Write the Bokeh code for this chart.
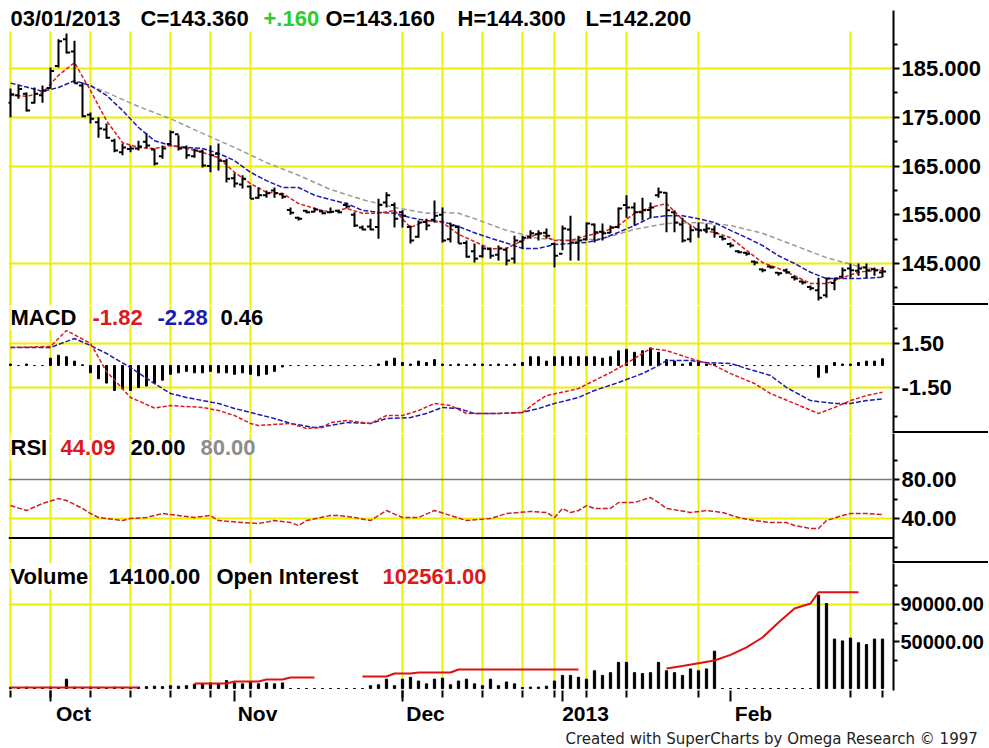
import numpy as np
from bokeh.plotting import figure
from bokeh.layouts import column
from bokeh.models import (Range1d, FixedTicker, NumeralTickFormatter, LinearAxis,
                          Label, BoxAnnotation, Span, Spacer, Title)
from bokeh.embed import file_html
from bokeh.resources import INLINE

nan = float("nan")

# ---------------- data (trading-day index 0 = 24 Sep 2012 ... 109 = 01 Mar 2013) ----------------
bar_idx = list(range(110))
opens = [178.0, 179.5, 179.8, 178.0, 179.5, 181.0, 185.5, 191.0, 188.5, 181.5,
         175.5, 174.0, 172.5, 170.2, 167.8, 168.5, 168.6, 170.0, 168.4, 167.0,
         169.5, 171.5, 168.8, 167.0, 168.0, 165.0, 167.5, 166.0, 162.5, 161.2,
         160.8, 158.5, 159.0, 160.0, 159.2, 156.0, 154.4, 155.8, 155.6, 155.7,
         155.5, 155.8, 157.0, 155.0, 152.4, 152.6, 152.5, 157.5, 157.0, 155.5,
         152.5, 150.5, 153.5, 154.0, 155.0, 150.0, 152.5, 149.2, 147.5, 146.5,
         148.0, 146.8, 147.8, 146.0, 149.5, 150.5, 151.0, 151.3, 149.0, 147.0,
         152.0, 149.3, 150.0, 153.0, 151.5, 151.3, 152.5, 157.0, 156.5, 155.5,
         156.0, 159.0, 159.5, 155.5, 153.0, 150.0, 152.0, 151.9, 152.0, 150.5,
         149.0, 147.5, 147.2, 145.4, 143.8, 144.4, 143.1, 143.6, 142.2, 141.3,
         140.2, 139.5, 138.5, 141.0, 142.3, 144.0, 143.5, 144.2, 143.8, 143.16]
highs = [180.9, 181.5, 180.1, 181.1, 181.5, 185.2, 191.0, 192.2, 190.7, 182.1,
         176.0, 175.0, 173.7, 170.6, 169.6, 169.2, 170.2, 171.7, 168.6, 169.2,
         172.3, 171.3, 169.2, 168.6, 168.4, 169.2, 169.6, 166.5, 163.5, 163.1,
         161.0, 160.6, 160.0, 160.6, 159.4, 156.5, 154.6, 156.0, 156.5, 155.9,
         156.5, 156.0, 157.5, 155.5, 152.8, 154.2, 158.3, 159.6, 157.5, 155.9,
         152.8, 153.8, 154.2, 157.9, 156.5, 153.4, 152.8, 149.7, 149.1, 148.7,
         148.3, 148.7, 148.3, 150.7, 150.7, 151.8, 151.8, 152.2, 149.3, 152.8,
         154.8, 150.7, 153.4, 153.2, 153.2, 152.8, 156.5, 159.0, 157.5, 158.5,
         157.5, 160.6, 159.6, 155.9, 154.4, 152.8, 153.4, 153.2, 152.8, 150.7,
         149.3, 147.7, 147.3, 145.6, 144.0, 144.6, 143.2, 144.0, 142.5, 141.5,
         140.5, 142.1, 142.1, 142.1, 144.2, 145.0, 145.0, 145.0, 144.2, 144.3]
lows = [175.0, 178.8, 176.2, 177.8, 178.0, 180.9, 185.2, 188.1, 181.9, 175.0,
        173.7, 170.8, 170.6, 167.8, 167.2, 167.8, 168.2, 168.6, 165.1, 166.5,
        169.2, 168.2, 166.5, 166.7, 164.7, 163.7, 164.1, 161.6, 160.6, 160.4,
        158.3, 158.3, 158.5, 158.5, 158.3, 155.0, 153.8, 155.3, 155.5, 155.1,
        155.3, 155.3, 156.3, 152.5, 151.8, 151.8, 150.1, 156.5, 152.4, 152.4,
        149.1, 150.3, 151.8, 153.4, 149.3, 149.3, 149.1, 146.2, 145.2, 146.2,
        146.0, 145.6, 144.6, 145.0, 148.1, 150.1, 149.7, 150.1, 144.2, 147.7,
        145.6, 145.6, 149.7, 149.3, 149.7, 151.2, 152.2, 154.4, 152.8, 153.8,
        154.4, 158.5, 151.4, 151.4, 149.3, 149.3, 150.3, 151.2, 150.3, 149.7,
        148.3, 147.1, 146.6, 144.6, 143.2, 144.0, 142.5, 142.9, 141.5, 140.7,
        139.5, 137.4, 138.0, 139.5, 142.1, 142.1, 142.5, 142.1, 142.5, 142.2]
closes = [179.7, 180.8, 176.4, 179.8, 180.5, 184.5, 190.6, 188.3, 182.0, 175.2,
          174.7, 172.7, 170.8, 168.2, 168.8, 168.6, 169.0, 169.2, 165.5, 168.6,
          171.9, 168.6, 167.2, 168.2, 165.1, 167.2, 166.1, 162.4, 161.4, 162.4,
          158.3, 159.0, 159.4, 159.4, 158.7, 155.4, 154.2, 155.5, 156.1, 155.3,
          155.6, 155.5, 156.7, 152.8, 152.0, 152.0, 157.0, 159.0, 154.2, 154.8,
          149.7, 153.4, 152.8, 154.8, 149.7, 152.8, 149.1, 146.4, 146.0, 148.1,
          146.6, 148.1, 145.6, 149.7, 150.3, 151.2, 151.2, 150.7, 146.6, 152.2,
          149.3, 149.7, 153.2, 151.4, 151.2, 152.4, 156.3, 156.5, 155.5, 155.9,
          156.5, 159.6, 155.9, 153.4, 149.7, 151.8, 151.8, 152.2, 151.2, 150.1,
          148.7, 147.3, 147.0, 145.2, 143.6, 144.2, 143.0, 143.2, 141.9, 141.1,
          139.9, 138.0, 141.9, 141.9, 143.6, 143.6, 144.0, 143.6, 143.6, 143.36]

ma_idx = [0, 2, 4, 6, 8, 10, 12, 14, 16, 18,
          20, 22, 24, 26, 28, 30, 32, 34, 36, 38,
          40, 42, 44, 46, 48, 50, 52, 54, 56, 58,
          60, 62, 64, 66, 68, 70, 72, 74, 76, 78,
          80, 82, 84, 86, 88, 90, 92, 94, 96, 98,
          100, 102, 104, 106, 108, 109]
red_ma = [179.5, 179.3, 180.0, 183.6, 186.2, 180.5, 174.3, 169.8, 168.8, 168.6,
          169.2, 168.6, 167.8, 166.7, 163.7, 161.4, 159.6, 159.4, 157.3, 156.3,
          155.5, 156.3, 155.3, 155.3, 155.9, 152.4, 153.8, 153.4, 151.0, 149.5,
          148.0, 148.1, 149.7, 151.2, 149.7, 149.7, 150.7, 151.4, 152.8, 155.3,
          156.5, 157.3, 154.0, 151.8, 151.4, 150.3, 147.7, 145.2, 144.0, 142.5,
          140.9, 140.9, 142.1, 143.2, 143.6, 143.5]
blue_ma = [182.0, 181.2, 180.3, 181.1, 182.5, 181.5, 179.5, 176.4, 172.9, 170.2,
           169.2, 168.8, 168.6, 167.6, 166.1, 163.7, 162.0, 160.6, 160.6, 159.0,
           158.1, 157.3, 155.9, 155.5, 155.3, 154.4, 153.8, 153.6, 152.6, 151.3,
           150.2, 149.2, 148.1, 148.1, 148.9, 149.1, 149.3, 150.1, 151.4, 152.8,
           154.4, 154.8, 154.8, 154.2, 153.4, 151.8, 150.3, 148.7, 146.6, 145.0,
           143.2, 141.9, 141.9, 141.9, 142.1, 142.2]
gray_idx = [9, 12, 16, 20, 24, 28, 32, 36, 40, 44, 48, 52, 54, 56,
            58, 62, 66, 70, 74, 78, 82, 86, 90, 94, 98, 102, 106, 109]
gray_ma = [182.1, 180.1, 177.2, 174.7, 171.7, 168.8, 165.7, 163.1, 160.2, 158.1, 156.5, 155.3, 155.5, 155.3,
           154.2, 151.8, 150.1, 149.7, 150.1, 152.0, 153.2, 153.4, 152.8, 151.2, 148.7, 146.2, 144.4, 143.6]

macd_idx = [0, 5, 7, 10, 12, 15, 18, 20, 24, 26,
            28, 30, 31, 35, 37, 39, 40, 42, 45, 47,
            49, 51, 53, 55, 57, 61, 64, 66, 67, 70,
            71, 73, 75, 77, 80, 82, 85, 88, 90, 93,
            95, 98, 101, 103, 105, 107, 109]
macd = [1.23, 1.3, 2.39, 1.5, -0.4, -2.18, -2.9, -2.73, -2.86, -3.07,
        -3.41, -3.95, -4.09, -3.95, -4.29, -4.23, -3.89, -3.75, -3.95, -3.41,
        -3.41, -3.07, -2.59, -2.73, -3.27, -3.27, -3.2, -2.39, -2.05, -1.7,
        -1.57, -1.02, -0.48, 0.14, 1.16, 1.02, 0.48, 0.0, -0.55, -1.23,
        -1.91, -2.59, -3.27, -2.86, -2.39, -2.05, -1.82]
sig_idx = [0, 5, 8, 10, 12, 15, 18, 20, 22, 24,
           26, 28, 30, 33, 35, 38, 40, 42, 45, 47,
           50, 52, 54, 56, 58, 61, 64, 66, 68, 71,
           73, 76, 79, 81, 82, 85, 87, 90, 92, 95,
           97, 100, 103, 105, 107, 109]
signal = [1.23, 1.23, 1.84, 1.36, 0.82, -0.14, -1.23, -1.91, -2.18, -2.39,
          -2.59, -2.93, -3.2, -3.61, -3.95, -4.23, -4.09, -3.89, -3.95, -3.61,
          -3.55, -3.27, -2.86, -2.93, -3.27, -3.27, -3.2, -2.93, -2.59, -2.18,
          -1.7, -1.16, -0.55, 0.0, 0.34, 0.34, 0.2, 0.14, -0.2, -0.68,
          -1.5, -2.39, -2.59, -2.59, -2.39, -2.28]
macd_hist = [0.1, 0.0, 0.1, 0.0, 0.0, 0.5, 0.7, 0.6, 0.3, 0.05,
             -0.5, -0.9, -1.2, -1.7, -1.6, -1.7, -1.5, -1.4, -1.2, -1.0,
             -0.6, -0.5, -0.4, -0.5, -0.5, -0.4, -0.5, -0.5, -0.6, -0.5,
             -0.6, -0.7, -0.6, -0.4, -0.1, 0.0, 0.0, 0.0, 0.0, 0.0,
             0.0, 0.0, 0.0, 0.0, 0.0, 0.0, 0.1, 0.3, 0.5, 0.2,
             0.1, 0.3, 0.2, 0.4, 0.1, 0.05, 0.1, 0.05, 0.1, 0.1,
             0.05, 0.1, 0.05, 0.1, 0.2, 0.6, 0.6, 0.3, 0.6, 0.6,
             0.6, 0.6, 0.6, 0.6, 0.5, 0.6, 1.0, 1.1, 0.9, 1.0,
             1.2, 0.9, 0.4, 0.3, 0.1, 0.2, 0.3, 0.1, 0.1, 0.0,
             0.0, 0.0, 0.0, 0.0, 0.0, 0.0, 0.0, 0.0, 0.0, 0.0,
             0.0, -0.8, -0.5, 0.2, 0.1, 0.1, 0.2, 0.3, 0.3, 0.46]

rsi_idx = [0, 2, 4, 6, 7, 9, 10, 11, 14, 15,
           17, 19, 21, 23, 25, 26, 29, 31, 33, 35,
           36, 37, 40, 41, 43, 45, 46, 47, 49, 51,
           53, 55, 57, 60, 62, 65, 67, 68, 69, 70,
           71, 72, 73, 75, 76, 78, 80, 81, 82, 85,
           87, 89, 91, 93, 95, 97, 98, 100, 101, 102,
           104, 105, 107, 109]
rsi = [53.3, 48.2, 55.4, 60.5, 58.5, 50.3, 45.1, 41.0, 37.9, 40.0,
       41.0, 45.1, 43.1, 41.0, 43.1, 37.9, 35.9, 34.9, 37.9, 35.9,
       32.8, 37.9, 43.1, 43.1, 41.0, 37.9, 43.1, 48.2, 41.0, 41.0,
       48.2, 43.1, 37.9, 40.0, 45.1, 47.2, 46.2, 41.0, 50.3, 46.2,
       48.2, 53.3, 50.3, 50.3, 56.4, 56.4, 61.5, 56.4, 50.3, 46.2,
       48.2, 46.2, 41.0, 37.9, 35.9, 35.9, 32.8, 29.7, 29.7, 37.9,
       43.1, 45.1, 45.1, 44.09]

volume = [1200, 1000, 1500, 1000, 1200, 1500, 1000, 10000, 1500, 1200,
          1500, 1200, 1000, 1500, 1200, 1000, 1500, 2000, 2500, 2000,
          3000, 2500, 3000, 4500, 5000, 6000, 5000, 8500, 6000, 5000,
          7000, 5000, 6000, 5000, 6000,
          0, 0, 0, 0, 0, 0, 0, 0, 0, 0,
          3000, 4000, 10000, 3000, 10000,
          12000, 8000, 5000, 10000, 11000, 4000, 8000, 10000, 5000, 3000,
          10000, 3000, 7000, 5000, 1000, 1500, 1500, 2500, 8000,
          14000, 14000, 12000, 10000, 19000, 14000, 17000, 28000, 28000, 17000, 16000,
          17000, 28000, 19000, 17000, 14000, 21000, 19000, 21000, 40000,
          0, 0, 0, 0, 0, 0, 0, 0, 0, 0, 0, 0,
          100000, 91000, 53000, 51000, 54000, 49000, 47000, 53000, 53000]

oi_idx = [0, 16, 17, 23, 27, 28, 31, 32, 34, 35,
          38, 39, 43, 44, 47, 48, 50, 51, 55, 56,
          71, 72, 81, 82, 84, 86, 88, 90, 92, 94,
          96, 98, 100, 101, 106]
open_interest = [1000, 1000, nan, 5300, 5300, 7500, 7500, 9600, 9600, 11800,
                 11800, nan, nan, 12800, 12800, 16000, 16000, 17100, 17100, 20300,
                 20300, nan, nan, 21400, 24000, 27000, 30000, 36000, 44000, 54600,
                 70700, 85700, 91000, 103000, 103000]

week_grid = [0, 5, 10, 15, 20, 25, 30, 49, 54, 59, 64, 68, 72, 77, 86, 105]
week_ticks = week_grid + [109]
month_ticks = [5, 28, 49, 69, 90]
month_labels = ["Oct", "Nov", "Dec", "2013", "Feb"]

# ---------------- styling / layout ----------------
X_START, X_END = -0.25, 110.375
xr = Range1d(X_START, X_END)
W = 988
LB = 8
RB = 95
FONT = "Liberation Sans"
GRID = "#eeee00"
RED = "#dd1a1a"
BLUE = "#1a1ab4"


def panel(h, y0, y1, top=0, bottom=0):
    p = figure(width=W, height=h, x_range=xr, y_range=Range1d(y0, y1),
               output_backend="svg", toolbar_location=None,
               x_axis_location=None, y_axis_location="right",
               min_border_left=LB, min_border_right=RB,
               min_border_top=top, min_border_bottom=bottom,
               outline_line_color=None, background_fill_color="white",
               border_fill_color="white")
    p.xgrid.ticker = FixedTicker(ticks=week_grid)
    p.xgrid.grid_line_color = GRID
    p.xgrid.grid_line_width = 2
    p.ygrid.grid_line_color = GRID
    p.ygrid.grid_line_width = 2
    ax = p.yaxis[0]
    ax.axis_line_width = 2
    ax.axis_line_color = "black"
    ax.major_tick_out = 6
    ax.major_tick_in = 0
    ax.minor_tick_out = 4
    ax.minor_tick_in = 0
    ax.major_tick_line_width = 2
    ax.minor_tick_line_width = 2
    ax.major_label_standoff = 2
    ax.major_label_text_font = FONT
    ax.major_label_text_font_style = "bold"
    ax.major_label_text_font_size = "22px"
    ax.major_label_text_color = "black"
    return p


def set_scale(p, ticks, minor, fmt):
    ax = p.yaxis[0]
    ax.ticker = FixedTicker(ticks=ticks, minor_ticks=minor)
    ax.formatter = NumeralTickFormatter(format=fmt)


def add_text(p, text, ref_x, dy, color="black", size="22px"):
    p.add_layout(Label(x=X_START, y=p.y_range.end, x_units="data", y_units="data",
                       x_offset=ref_x - 8, y_offset=-dy, text=text,
                       text_font=FONT, text_font_size=size, text_font_style="bold",
                       text_color=color, text_align="left", text_baseline="middle",
                       background_fill_color="white", background_fill_alpha=1.0))


def separator():
    # black rule across the right-hand scale column between two panels
    return Spacer(width=RB, height=2, margin=(-2, 0, 0, W - RB),
                  styles={"background-color": "black"})


# ---- price panel ----
p1 = panel(305, 136.385, 196.9, top=10)
p1.ygrid.ticker = FixedTicker(ticks=[145, 165, 175, 185])
set_scale(p1, [145, 155, 165, 175, 185], [140, 150, 160, 170, 180, 190], "0.000")
p1.add_layout(BoxAnnotation(bottom=192.6, fill_color="white", fill_alpha=1.0,
                            line_color=None, level="underlay"))
p1.line(gray_idx, gray_ma, line_color="#999999", line_width=1.5, line_dash="5 3")
p1.line(ma_idx, blue_ma, line_color=BLUE, line_width=1.5, line_dash="5 2")
p1.line(ma_idx, red_ma, line_color=RED, line_width=1.5, line_dash="4 2")
p1.segment(x0=bar_idx, y0=lows, x1=bar_idx, y1=highs, line_color="black", line_width=2)
p1.segment(x0=[i - 0.45 for i in bar_idx], y0=opens, x1=bar_idx, y1=opens,
           line_color="black", line_width=2)
p1.segment(x0=bar_idx, y0=closes, x1=[i + 0.45 for i in bar_idx], y1=closes,
           line_color="black", line_width=2)
add_text(p1, "03/01/2013", 10, 8)
add_text(p1, "C=143.360", 140, 8)
add_text(p1, "+.160", 263, 8, color="#2ecc2e")
add_text(p1, "O=143.160", 325, 8)
add_text(p1, "H=144.300", 457, 8)
add_text(p1, "L=142.200", 585, 8)

# ---- MACD panel ----
p2 = panel(128, -4.635, 4.09)
p2.ygrid.ticker = FixedTicker(ticks=[-1.5, 1.5])
set_scale(p2, [-1.5, 1.5], [-3.5, 2.5], "0.00")
p2.vbar(x=bar_idx, top=macd_hist, bottom=0, width=0.25, color="black")
p2.line(sig_idx, signal, line_color=BLUE, line_width=1.5, line_dash="5 2")
p2.line(macd_idx, macd, line_color=RED, line_width=1.5, line_dash="4 2")
add_text(p2, "MACD", 10, 12)
add_text(p2, "-1.82", 92, 12, color=RED)
add_text(p2, "-2.28", 157, 12, color=BLUE)
add_text(p2, "0.46", 220, 12)

# ---- RSI panel ----
p3 = panel(130, -6.15, 127.18)
p3.ygrid.ticker = FixedTicker(ticks=[40])
set_scale(p3, [40, 80], [10, 60, 100], "0.00")
p3.add_layout(Span(location=80, dimension="width", line_color="#7a7a7a", line_width=1.5))
p3.add_layout(Span(location=20, dimension="width", line_color="black", line_width=2))
p3.line(rsi_idx, rsi, line_color="#cc2020", line_width=1.5, line_dash="5 2")
add_text(p3, "RSI", 10, 14)
add_text(p3, "44.09", 60, 14, color=RED)
add_text(p3, "20.00", 130, 14)
add_text(p3, "80.00", 200, 14, color="#8c8c8c")

# ---- Volume / Open interest panel ----
p4 = panel(185, -2142, 133875, bottom=58)
p4.ygrid.ticker = FixedTicker(ticks=[90000])
set_scale(p4, [50000, 90000], [30000, 70000, 110000], "0.00")
p4.yaxis[0].major_label_text_font_size = "20px"
p4.yaxis[0].major_label_standoff = 1
p4.vbar(x=bar_idx, top=volume, bottom=0, width=0.28, color="black")
p4.line(oi_idx, np.array(open_interest, dtype=float), line_color="#e01010", line_width=2)
add_text(p4, "Volume", 10, 13)
add_text(p4, "14100.00", 108, 13)
add_text(p4, "Open Interest", 216, 13)
add_text(p4, "102561.00", 382, 13, color=RED)

axA = LinearAxis(ticker=FixedTicker(ticks=month_ticks, minor_ticks=week_ticks),
                 axis_line_color=None, major_tick_out=11, major_tick_in=0,
                 minor_tick_out=7, minor_tick_in=0,
                 major_tick_line_width=2, minor_tick_line_width=2,
                 major_label_text_font_size="1px", major_label_text_color=None,
                 major_label_standoff=0)
p4.add_layout(axA, "below")
label_pos = [m + 2.875 for m in month_ticks]
axB = LinearAxis(ticker=FixedTicker(ticks=label_pos),
                 major_label_overrides={pos: lab for pos, lab in zip(label_pos, month_labels)},
                 axis_line_color=None, major_tick_line_color=None, minor_tick_line_color=None,
                 major_tick_out=0, major_tick_in=0, minor_tick_out=0, minor_tick_in=0,
                 major_label_standoff=0, major_label_text_font=FONT,
                 major_label_text_font_style="bold", major_label_text_font_size="21px",
                 major_label_text_color="black")
p4.add_layout(axB, "below")
p4.add_layout(Title(text="Created with SuperCharts by Omega Research \u00a9 1997",
                    align="left", offset=557, standoff=0,
                    text_font="DejaVu Sans", text_font_size="15px",
                    text_font_style="normal", text_color="#222222"), "below")

layout = column(p1, separator(), p2, separator(), p3, separator(), p4)
open("out.html", "w").write(file_html(layout, INLINE))
